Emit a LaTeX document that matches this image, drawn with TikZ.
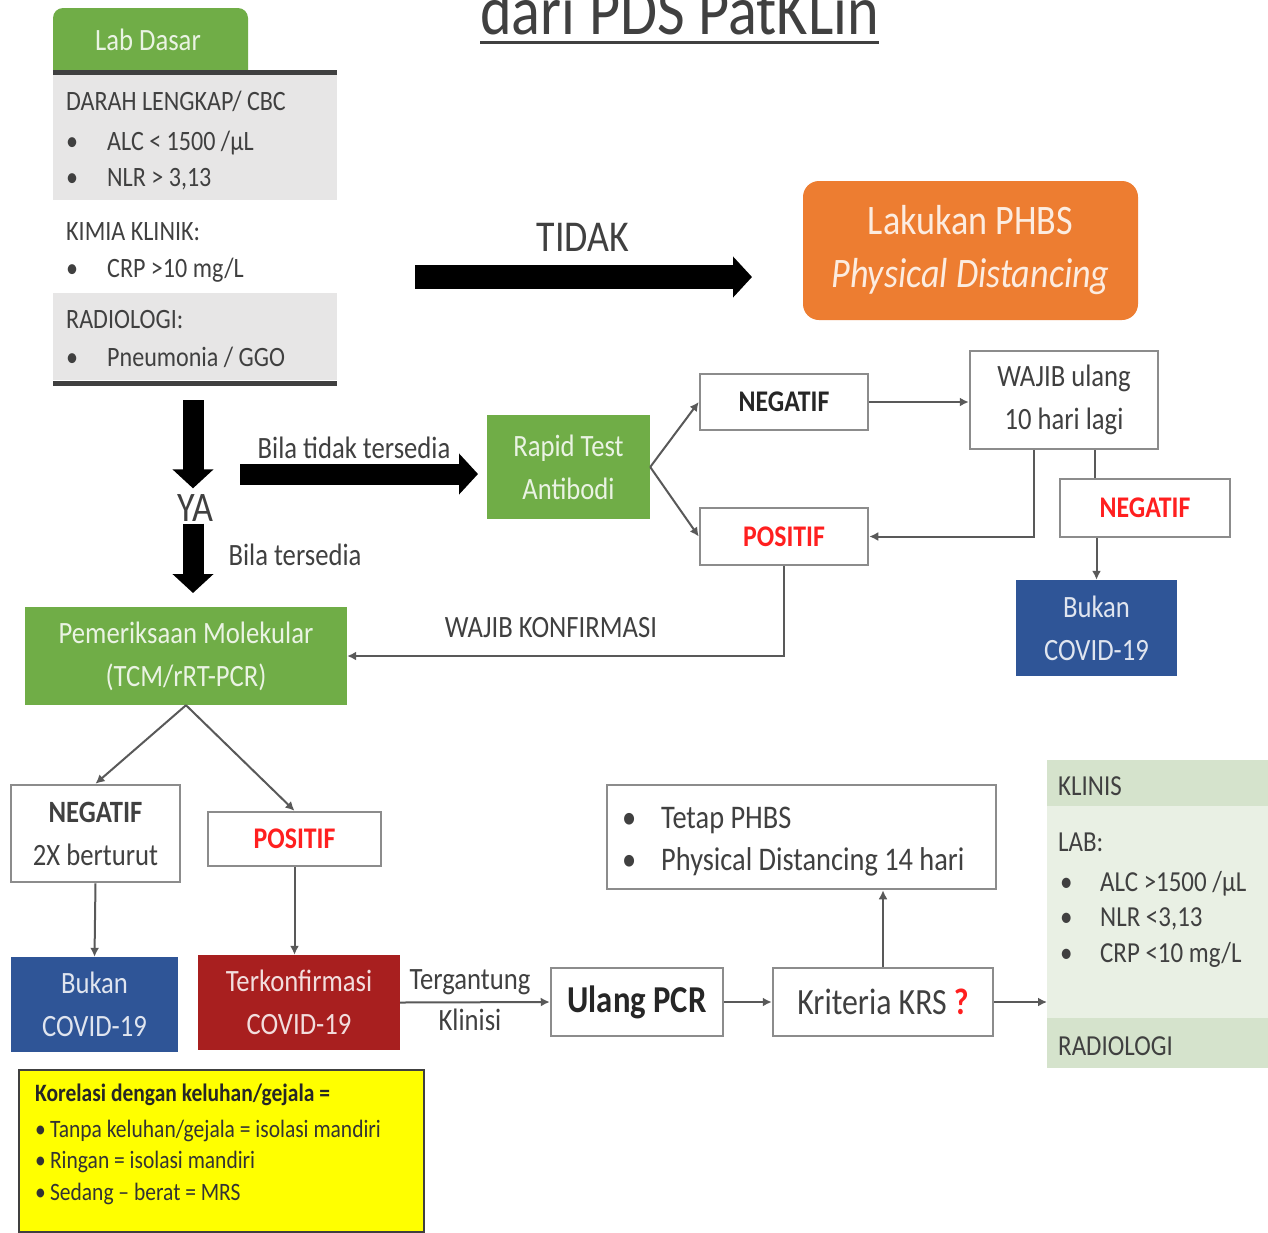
\documentclass[tikz,border=0pt]{standalone}
\usepackage{fontspec}
\setmainfont{Carlito}[FakeStretch=0.86]
\usepackage{xcolor}
\usepackage{tikz}
\usetikzlibrary{arrows.meta}

\definecolor{boxgreen}{HTML}{70AD47}
\definecolor{boxorange}{HTML}{ED7D31}
\definecolor{boxblue}{HTML}{2F5597}
\definecolor{boxred}{HTML}{A81F1F}
\definecolor{bandgray}{HTML}{E7E6E6}
\definecolor{inkgray}{HTML}{404040}
\definecolor{linegray}{HTML}{595959}
\definecolor{panelhead}{HTML}{D5E3CC}
\definecolor{panelbody}{HTML}{E9F0E4}
\definecolor{alertred}{HTML}{FF1F1F}
\definecolor{notebox}{HTML}{FFFF00}

\begin{document}
\begin{tikzpicture}[x=1pt,y=-1pt,
    txt/.style={font=\fontsize{31}{43}\selectfont,text=inkgray,align=center,inner sep=0pt},
    outlinebox/.style={txt,draw=black!45,line width=2.5,fill=white},
    fillbox/.style={txt,fill=#1,text=white!85!#1},
    item/.style={anchor=base west,inner sep=0pt,text=inkgray,font=\fontsize{28}{34}\selectfont},
    conn/.style={draw=linegray,line width=2,-{Latex[length=9pt,width=9pt]}},
    plainline/.style={draw=linegray,line width=2},
    bigarrow/.style={line width=21,-{Triangle[length=19pt,width=40pt]}}]
    \useasboundingbox (0,0) rectangle (1268,1232);
    \fill[white] (0,0) rectangle (1268,1232);
    % Title, cut at the top edge
    \node[anchor=base west,inner sep=0pt,text=inkgray,font=\fontsize{70}{70}\selectfont] (judul) at (480,34) {dari PDS PatKLin};
    \draw[inkgray,line width=3] ([yshift=-8pt]judul.base west) -- ([yshift=-8pt]judul.base east);
    % Lab Dasar panel
    \node[fill=boxgreen,rounded corners=10,minimum width=195,minimum height=74,inner sep=0pt] (tab) at (150.5,45) {};
    \node[txt,text=white!85!boxgreen] (labdasar) at (148,40) {Lab Dasar};
    \fill[bandgray] (53,75) rectangle (337,200);
    \fill[bandgray] (53,293) rectangle (337,380);
    \draw[line width=5,inkgray] (53,72) -- (337,72);
    \draw[line width=5,inkgray] (53,383) -- (337,383);
    \node[item] (darah) at (66,110) {DARAH LENGKAP/ CBC};
    \node[item] (alc) at (66,150) {\makebox[41pt][l]{\textbullet}ALC < 1500 /µL};
    \node[item] (nlr) at (66,186) {\makebox[41pt][l]{\textbullet}NLR > 3,13};
    \node[item] (kimia) at (66,240) {KIMIA KLINIK:};
    \node[item] (crp) at (66,277) {\makebox[41pt][l]{\textbullet}CRP >10 mg/L};
    \node[item] (radio) at (66,328) {RADIOLOGI:};
    \node[item] (pneu) at (66,366) {\makebox[41pt][l]{\textbullet}Pneumonia / GGO};
    % TIDAK branch
    \node[txt,font=\fontsize{44}{44}\selectfont] (tidak) at (583,237) {TIDAK};
    \coordinate (tidakA) at (415,277);
    \coordinate (tidakB) at (752,277);
    \draw[bigarrow,line width=24] (tidakA) -- (tidakB);
    \node[fillbox=boxorange,rounded corners=16,minimum width=335,minimum height=139,font=\fontsize{42}{53}\selectfont] (phbs) at (970.5,250.5) {Lakukan PHBS\\\textit{Physical Distancing}};
    % YA branch
    \node[txt,font=\fontsize{42}{42}\selectfont] (ya) at (195,508) {YA};
    \coordinate (yaA) at (193,400);
    \draw[bigarrow] (yaA) -- ([yshift=6pt]ya.north -| yaA);
    \draw[bigarrow,shorten >=14pt] ([yshift=-2pt]ya.south -| yaA) -- (yaA |- 0,607);
    \node[txt] (tersedia) at (295,555) {Bila tersedia};
    \node[txt] (tidaktersedia) at (354,448) {Bila tidak tersedia};
    \coordinate (rapidA) at (240,474);
    \coordinate (rapidB) at (478,474);
    \draw[bigarrow] (rapidA) -- (rapidB);
    % Rapid test
    \node[fillbox=boxgreen,minimum width=163,minimum height=104] (rapid) at (568.5,467) {Rapid Test\\Antibodi};
    \node[outlinebox,minimum width=168,minimum height=56,font=\fontsize{30}{40}\selectfont\bfseries,text=black!85] (neg1) at (784,402) {NEGATIF};
    \node[outlinebox,minimum width=168,minimum height=57,font=\fontsize{30}{40}\selectfont\bfseries,text=alertred] (pos1) at (784,536.5) {POSITIF};
    \node[outlinebox,minimum width=188,minimum height=98] (wajib) at (1064,400) {WAJIB ulang\\10 hari lagi};
    \node[outlinebox,minimum width=170,minimum height=58,font=\fontsize{30}{40}\selectfont\bfseries,text=alertred] (neg2) at (1145,508) {NEGATIF};
    \node[fillbox=boxblue,minimum width=161,minimum height=96] (bukan1) at (1096.5,628) {Bukan\\COVID-19};
    \draw[conn] (rapid.east) -- (neg1.west);
    \draw[conn] (rapid.east) -- (pos1.west);
    \draw[conn] (neg1.east) -- (neg1.east -| wajib.west);
    \draw[conn] ([xshift=-30pt]wajib.south) |- (pos1.east);
    \draw[plainline] ([xshift=31pt]wajib.south) -- ([xshift=31pt]wajib.south |- neg2.north);
    \draw[conn] (bukan1.north |- neg2.south) -- (bukan1.north);
    % Molecular test
    \node[fillbox=boxgreen,minimum width=322,minimum height=98] (molek) at (186,656) {Pemeriksaan Molekular\\(TCM/rRT-PCR)};
    \draw[conn] (pos1.south) |- (molek.east);
    \node[txt] (konfirmasi) at (551,628) {WAJIB KONFIRMASI};
    \node[outlinebox,minimum width=169,minimum height=97] (neg3) at (95.5,833.5) {\textbf{NEGATIF}\\2X berturut};
    \node[outlinebox,minimum width=173,minimum height=54,font=\fontsize{30}{40}\selectfont\bfseries,text=alertred] (pos3) at (294.5,839) {POSITIF};
    \node[fillbox=boxblue,minimum width=167,minimum height=95] (bukan2) at (94.5,1004.5) {Bukan\\COVID-19};
    \node[fillbox=boxred,minimum width=202,minimum height=95] (terkon) at (299,1002.5) {Terkonfirmasi\\COVID-19};
    \draw[conn] (molek.south) -- (neg3.north);
    \draw[conn] (molek.south) -- (pos3.north);
    \draw[conn] (neg3.south) -- (bukan2.north);
    \draw[conn] (pos3.south) -- (pos3.south |- terkon.north);
    % Follow-up
    \node[outlinebox,minimum width=172,minimum height=68,font=\fontsize{38}{40}\selectfont\bfseries,text=black!85] (ulang) at (637,1002) {Ulang PCR};
    \node[outlinebox,minimum width=220,minimum height=68,font=\fontsize{37}{40}\selectfont] (krs) at (883,1002) {Kriteria KRS \textcolor{alertred}{\textbf{?}}};
    \node[txt] (tergantung) at (470,982) {Tergantung};
    \node[txt] (klinisi) at (470,1020) {Klinisi};
    \draw[conn] (terkon.east) -- (ulang.west);
    \draw[conn] (ulang.east) -- (krs.west);
    \node[outlinebox,minimum width=389,minimum height=104] (tetap) at (801.5,837) {};
    \node[item,font=\fontsize{33}{40}\selectfont] (tetap1) at (622,828) {\makebox[39pt][l]{\textbullet}Tetap PHBS};
    \node[item,font=\fontsize{33}{40}\selectfont] (tetap2) at (622,870) {\makebox[39pt][l]{\textbullet}Physical Distancing 14 hari};
    \draw[conn] (krs.north) -- (krs.north |- tetap.south);
    % Discharge criteria panel
    \node[fill=panelbody,minimum width=222,minimum height=308,anchor=north west,inner sep=0pt] (panel) at (1047,760) {};
    \fill[panelhead] (panel.north west) rectangle ++(222,46);
    \fill[panelhead] (panel.south west) rectangle ++(222,-50);
    \node[item,font=\fontsize{29}{34}\selectfont] (klinis) at (1058,795) {KLINIS};
    \node[item,font=\fontsize{29}{34}\selectfont] (lab) at (1058,851) {LAB:};
    \node[item,font=\fontsize{29}{34}\selectfont] (alc2) at (1060,891) {\makebox[40pt][l]{\textbullet}ALC >1500 /µL};
    \node[item,font=\fontsize{29}{34}\selectfont] (nlr2) at (1060,926) {\makebox[40pt][l]{\textbullet}NLR <3,13};
    \node[item,font=\fontsize{29}{34}\selectfont] (crp2) at (1060,962) {\makebox[40pt][l]{\textbullet}CRP <10 mg/L};
    \node[item,font=\fontsize{29}{34}\selectfont] (radio2) at (1058,1055) {RADIOLOGI};
    \draw[conn] (krs.east) -- (krs.east -| panel.west);
    % Correlation note
    \node[draw=black!75,line width=2,fill=notebox,minimum width=405,minimum height=162,anchor=north west,inner sep=0pt] (korelasi) at (18,1069) {};
    \node[item,font=\fontsize{25}{30}\selectfont\bfseries,text=black!85] (kor0) at (35,1101) {Korelasi dengan keluhan/gejala =};
    \node[item,font=\fontsize{25}{30}\selectfont,text=black!80] (kor1) at (35,1137) {\textbullet\,Tanpa keluhan/gejala = isolasi mandiri};
    \node[item,font=\fontsize{25}{30}\selectfont,text=black!80] (kor2) at (35,1168) {\textbullet\,Ringan = isolasi mandiri};
    \node[item,font=\fontsize{25}{30}\selectfont,text=black!80] (kor3) at (35,1200) {\textbullet\,Sedang -- berat = MRS};
\end{tikzpicture}
\end{document}
